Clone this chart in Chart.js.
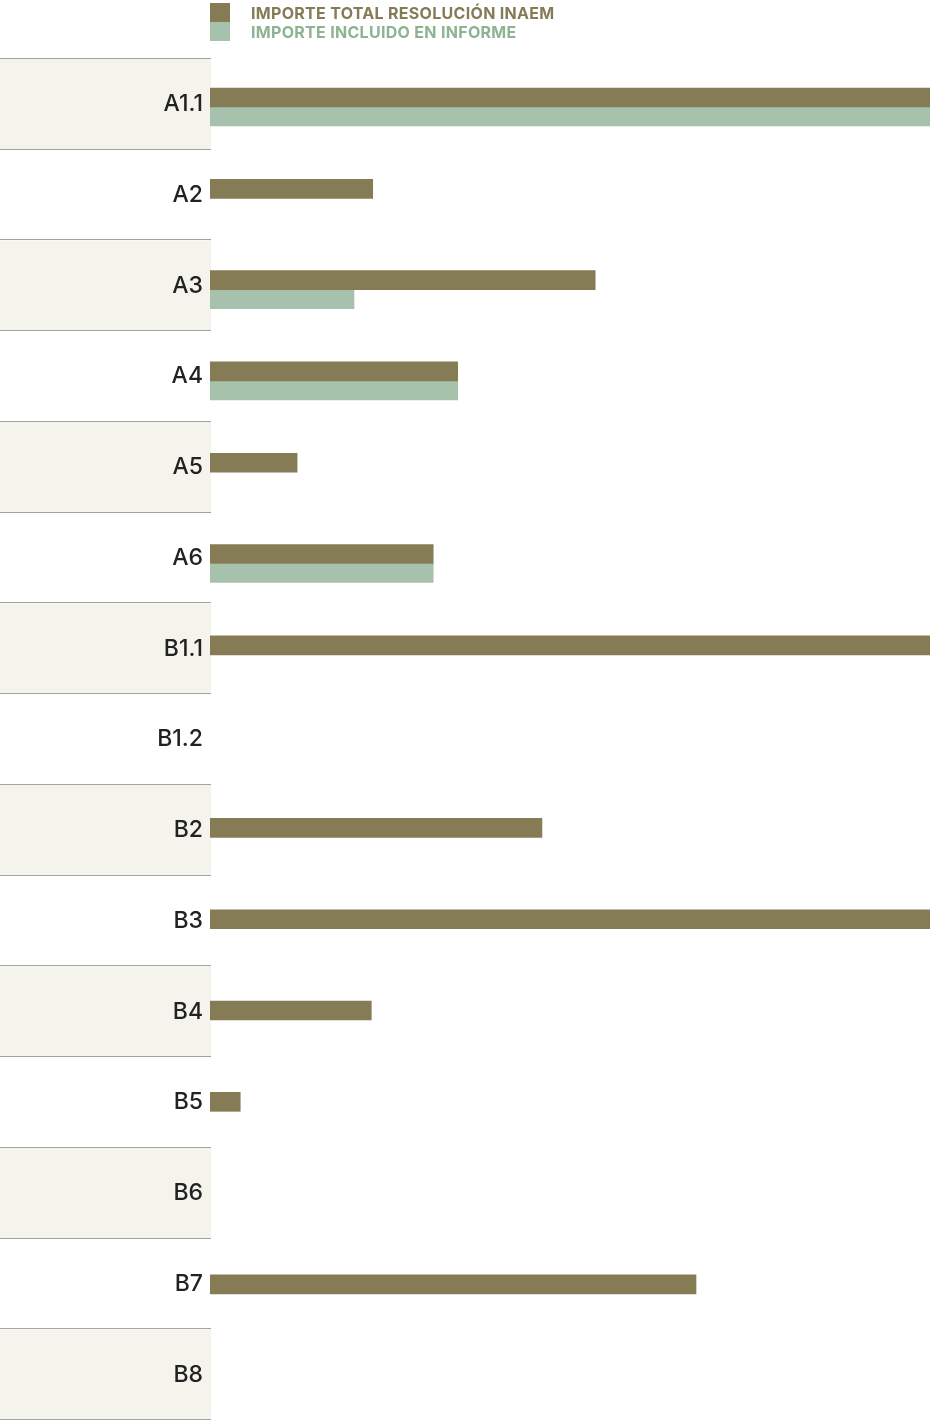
<!DOCTYPE html>
<html>
<head>
<meta charset="utf-8">
<script src="https://cdn.jsdelivr.net/npm/chart.js@4.4.1/dist/chart.umd.min.js"></script>
<style>
    html, body { margin: 0; padding: 0; background: #fff; overflow: hidden; }
    .wrap { position: relative; width: 934px; height: 1420px; }
    #chart { display: block; }
    #legend { position: absolute; left: 210px; top: 3px; font-family: Inter, "Noto Sans", sans-serif; font-weight: 700; font-size: 16px; letter-spacing: 0.3px; }
    .legend-item { display: flex; align-items: center; height: 19px; }
    .legend-item span.box { width: 20px; height: 19px; margin-right: 21px; }
</style>
</head>
<body>
<div class="wrap">
    <canvas id="chart" width="934" height="1420"></canvas>
    <div id="legend"></div>
</div>
<script>
// Categorias y valores (escala relativa 0-100 del eje)
const categories = ['A1.1', 'A2', 'A3', 'A4', 'A5', 'A6', 'B1.1', 'B1.2', 'B2', 'B3', 'B4', 'B5', 'B6', 'B7', 'B8'];
const importeTotal = [100, 22.6, 53.5, 34.4, 12.1, 31.0, 100, null, 46.1, 100, 22.4, 4.2, null, 67.5, null];
const importeInforme = [100, null, 20.0, 34.4, null, 31.0, null, null, null, null, null, null, null, null, null];
const seriesLabels = ['IMPORTE TOTAL RESOLUCIÓN INAEM', 'IMPORTE INCLUIDO EN INFORME'];
const seriesColors = ['#857b55', '#a6c2ac'];
const legendTextColors = ['#857b55', '#8db392'];

// Franjas alternas y lineas separadoras de la columna de etiquetas
const rowBands = {
    id: 'rowBands',
    beforeDraw(chart) {
        const ctx = chart.ctx;
        const y = chart.scales.y;
        const area = chart.chartArea;
        const half = (y.getPixelForValue(1) - y.getPixelForValue(0)) / 2;
        ctx.save();
        categories.forEach((c, i) => {
            const mid = y.getPixelForValue(i);
            if (i % 2 === 0) {
                ctx.fillStyle = '#f4f3ec';
                ctx.fillRect(0, mid - half, 211, half * 2);
            }
        });
        ctx.strokeStyle = '#a3a3a3';
        ctx.lineWidth = 1;
        for (let i = 0; i <= categories.length; i++) {
            const yy = Math.min(Math.round(y.getPixelForValue(i) - half) - 0.5, area.bottom - 0.5);
            ctx.beginPath();
            ctx.moveTo(0, yy);
            ctx.lineTo(211, yy);
            ctx.stroke();
        }
        ctx.restore();
    }
};

// las barras van sobre un eje propio, algo mas espaciado que las filas
const toPoints = arr => arr.map((v, i) => ({ x: v, y: i }));

const ctx = document.getElementById('chart').getContext('2d');
new Chart(ctx, {
    type: 'bar',
    data: {
        labels: categories,
        datasets: [
            { label: seriesLabels[0], data: toPoints(importeTotal), backgroundColor: seriesColors[0], barThickness: 19, yAxisID: 'yb' },
            { label: seriesLabels[1], data: toPoints(importeInforme), backgroundColor: seriesColors[1], barThickness: 19, yAxisID: 'yb' }
        ]
    },
    options: {
        indexAxis: 'y',
        responsive: false,
        animation: false,
        layout: { padding: { top: 59, right: 4, left: 0, bottom: 0 } },
        plugins: { legend: { display: false }, tooltip: { enabled: false } },
        scales: {
            x: { display: false, min: 0, max: 100 },
            y: {
                type: 'category',
                labels: categories,
                grid: { display: false, drawTicks: false },
                border: { display: false },
                ticks: {
                    color: '#222',
                    padding: 7,
                    font: { family: 'Inter, "Noto Sans", sans-serif', size: 23, weight: 500 }
                },
                afterFit(scale) {
                    scale.width = 210;
                    scale.paddingTop = 0;
                    scale.paddingBottom = 0;
                }
            },
            yb: {
                type: 'linear',
                display: false,
                reverse: true,
                offset: false,
                bounds: 'data',
                grid: { offset: false },
                min: -0.526,
                max: 14.381
            }
        }
    },
    plugins: [rowBands]
});

// Leyenda
document.getElementById('legend').innerHTML = seriesLabels.map((l, i) => `
    <div class="legend-item" style="color:${legendTextColors[i]}">
        <span class="box" style="background:${seriesColors[i]}"></span>${l}
    </div>
`).join('');
</script>
</body>
</html>
